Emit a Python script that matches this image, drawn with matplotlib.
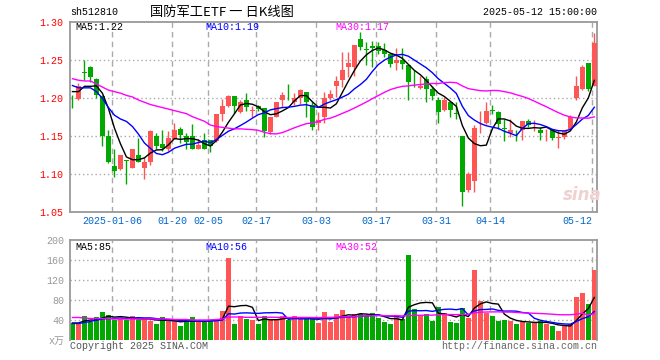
import matplotlib.pyplot as plt
import numpy as np
import pandas as pd

# trading days 2024-12-25 .. 2025-05-12 (SSE calendar)
holidays = ['2025-01-01', '2025-01-28', '2025-01-29', '2025-01-30', '2025-01-31',
            '2025-02-03', '2025-02-04', '2025-04-04', '2025-05-01', '2025-05-02', '2025-05-05']
dates = pd.bdate_range('2024-12-25', '2025-05-12').drop(pd.to_datetime(holidays))

label_dates = ['2025-01-06', '2025-01-20', '2025-02-05', '2025-02-17', '2025-03-03',
               '2025-03-17', '2025-03-31', '2025-04-14', '2025-05-12']

opens = [1.200, 1.198, 1.234, 1.241, 1.225, 1.202, 1.150, 1.110, 1.106, 1.118,
         1.108, 1.125, 1.107, 1.115, 1.150, 1.139, 1.132, 1.146, 1.159, 1.149,
         1.149, 1.133, 1.145, 1.145, 1.143, 1.179, 1.189, 1.202, 1.181, 1.197,
         1.183, 1.189, 1.186, 1.155, 1.175, 1.197, 1.208, 1.194, 1.199, 1.208,
         1.191, 1.167, 1.174, 1.199, 1.215, 1.223, 1.240, 1.241, 1.277, 1.264,
         1.268, 1.268, 1.263, 1.257, 1.246, 1.249, 1.243, 1.220, 1.213, 1.225,
         1.211, 1.197, 1.184, 1.194, 1.180, 1.150, 1.078, 1.090, 1.169, 1.167,
         1.184, 1.181, 1.160, 1.153, 1.150, 1.157, 1.170, 1.164, 1.157, 1.156,
         1.157, 1.147, 1.148, 1.159, 1.199, 1.211, 1.245, 1.216]
highs = [1.203, 1.219, 1.250, 1.242, 1.226, 1.203, 1.157, 1.132, 1.124, 1.118,
         1.132, 1.147, 1.122, 1.158, 1.154, 1.157, 1.156, 1.167, 1.162, 1.154,
         1.166, 1.146, 1.154, 1.145, 1.178, 1.198, 1.204, 1.202, 1.197, 1.206,
         1.189, 1.190, 1.187, 1.175, 1.194, 1.208, 1.218, 1.206, 1.212, 1.208,
         1.194, 1.181, 1.208, 1.210, 1.229, 1.260, 1.260, 1.270, 1.286, 1.273,
         1.275, 1.273, 1.272, 1.259, 1.265, 1.266, 1.245, 1.236, 1.228, 1.229,
         1.215, 1.201, 1.201, 1.194, 1.194, 1.150, 1.102, 1.164, 1.183, 1.194,
         1.190, 1.183, 1.172, 1.172, 1.157, 1.169, 1.172, 1.171, 1.161, 1.159,
         1.158, 1.157, 1.156, 1.177, 1.229, 1.243, 1.245, 1.285]
lows = [1.187, 1.197, 1.223, 1.221, 1.200, 1.136, 1.114, 1.096, 1.105, 1.086,
        1.107, 1.115, 1.093, 1.112, 1.132, 1.130, 1.130, 1.146, 1.140, 1.133,
        1.132, 1.132, 1.132, 1.129, 1.142, 1.170, 1.188, 1.180, 1.180, 1.183,
        1.174, 1.183, 1.148, 1.152, 1.175, 1.188, 1.197, 1.190, 1.192, 1.175,
        1.157, 1.158, 1.167, 1.197, 1.201, 1.214, 1.227, 1.228, 1.263, 1.243,
        1.240, 1.257, 1.254, 1.241, 1.237, 1.238, 1.197, 1.214, 1.212, 1.194,
        1.197, 1.167, 1.183, 1.175, 1.172, 1.058, 1.076, 1.076, 1.153, 1.166,
        1.179, 1.159, 1.143, 1.148, 1.143, 1.145, 1.161, 1.156, 1.144, 1.143,
        1.144, 1.134, 1.146, 1.157, 1.197, 1.210, 1.209, 1.215]
closes = [1.199, 1.215, 1.233, 1.227, 1.204, 1.150, 1.115, 1.104, 1.124, 1.117,
          1.132, 1.115, 1.116, 1.156, 1.137, 1.134, 1.147, 1.157, 1.151, 1.142,
          1.133, 1.138, 1.133, 1.136, 1.178, 1.189, 1.202, 1.189, 1.194, 1.188,
          1.184, 1.185, 1.156, 1.175, 1.194, 1.203, 1.207, 1.200, 1.210, 1.194,
          1.162, 1.171, 1.200, 1.205, 1.222, 1.237, 1.245, 1.270, 1.267, 1.263,
          1.266, 1.261, 1.258, 1.245, 1.250, 1.245, 1.221, 1.219, 1.216, 1.212,
          1.202, 1.181, 1.197, 1.184, 1.179, 1.076, 1.099, 1.160, 1.170, 1.183,
          1.183, 1.165, 1.159, 1.157, 1.149, 1.169, 1.164, 1.164, 1.154, 1.156,
          1.147, 1.147, 1.156, 1.175, 1.215, 1.240, 1.212, 1.272]
# volume, 万手
volume = [35, 33, 48, 37, 46, 56, 50, 40, 42, 40,
          48, 40, 42, 38, 32, 46, 38, 38, 28, 38,
          46, 37, 37, 38, 39, 59, 165, 32, 48, 42,
          40, 32, 48, 40, 43, 48, 40, 48, 42, 42,
          42, 34, 56, 37, 52, 60, 47, 52, 52, 48,
          54, 44, 36, 32, 47, 42, 170, 62, 50, 52,
          38, 66, 55, 36, 35, 64, 44, 140, 78, 55,
          48, 38, 40, 38, 32, 37, 34, 35, 38, 32,
          28, 18, 29, 33, 86, 94, 72, 140]

# moving-average values before enough history is available
ma5_head = [1.208, 1.208, 1.215, 1.215]
ma10_head = [1.216, 1.213, 1.213, 1.213, 1.208, 1.199, 1.187, 1.177, 1.172]
ma30_head = [1.225, 1.223, 1.222, 1.222, 1.218, 1.214, 1.210, 1.208, 1.206, 1.203,
             1.201, 1.197, 1.194, 1.191, 1.189, 1.187, 1.185, 1.183, 1.181, 1.179,
             1.175, 1.172, 1.169, 1.164, 1.162, 1.161, 1.160, 1.159, 1.159]
vma5_head = [34, 34, 38, 40]
vma10_head = [33, 33, 35, 37, 40, 42, 43, 43, 44]
vma30_head = [45, 45, 44, 43, 43, 43, 43, 42, 42, 42,
              42, 42, 42, 42, 42, 42, 42, 41, 41, 41,
              40, 40, 40, 40, 41, 42, 46, 46, 46]

RED = '#ff5555'
GREEN = '#00a800'
GRID = '#aaaaaa'
FRAME = '#999999'
MONO = 'Liberation Mono'


def moving(vals, n, head):
    s = pd.Series(vals, dtype=float).rolling(n).mean().to_numpy()
    s[:n - 1] = head
    return s


o = np.array(opens); h = np.array(highs); l = np.array(lows); c = np.array(closes)
x = np.arange(len(dates))
up = c >= o
cols = np.where(up, RED, GREEN)
pos = [dates.get_loc(pd.Timestamp(d)) for d in label_dates]
labels = [label_dates[0]] + [d[5:] for d in label_dates[1:]]

W, H = 660, 360
fig = plt.figure(figsize=(6.6, 3.6), dpi=100)
ax = fig.add_axes([70.3 / W, 1 - 211.7 / H, 526.4 / W, 190 / H])
axv = fig.add_axes([70.3 / W, 1 - 340 / H, 526.4 / W, 100 / H])

for a in (ax, axv):
    a.set_xlim(-0.36, 87.4)
    for s in a.spines.values():
        s.set_color(FRAME)
        s.set_linewidth(1.3)
    for p in pos:
        a.axvline(p - 0.33, color=GRID, lw=1, ls=(0, (4, 3)), zorder=0)
    a.tick_params(length=0)
axv.spines['bottom'].set_visible(False)

# price panel
for yv in [1.10, 1.15, 1.20, 1.25]:
    ax.axhline(yv, color=GRID, lw=1, ls=(0, (1, 2)), zorder=0)
ax.vlines(x, l, h, color=cols, lw=1, zorder=2)
ax.bar(x, np.maximum(np.abs(c - o), 0.0007), bottom=np.minimum(o, c), width=0.78,
       color=cols, lw=0, zorder=3)
ax.plot(x, moving(closes, 5, ma5_head), color='black', lw=1, zorder=4)
ax.plot(x, moving(closes, 10, ma10_head), color='#0000ff', lw=1, zorder=4)
ax.plot(x, moving(closes, 30, ma30_head), color='#ff00ff', lw=1, zorder=4)
ax.set_ylim(1.05, 1.30)
ax.set_yticks([1.05, 1.10, 1.15, 1.20, 1.25, 1.30])
ax.set_yticklabels(['%.2f' % v for v in [1.05, 1.10, 1.15, 1.20, 1.25, 1.30]],
                   color='red', family=MONO, fontsize=7.2)
ax.set_xticks([p - 0.33 for p in pos])
ax.set_xticklabels(labels, color='#0066cc', family=MONO, fontsize=7.2)
ax.get_xticklabels()[-1].set_horizontalalignment('right')
ax.tick_params(axis='x', pad=3)
ax.tick_params(axis='y', pad=5)
ax.text(563 / W, 1 - 195 / H, 'sina', transform=fig.transFigure, fontsize=12,
        style='italic', weight='bold', color='#f0d0d0', ha='left', va='center')

# volume panel
for yv in [40, 80, 120, 160]:
    axv.axhline(yv, color=GRID, lw=1, ls=(0, (1, 2)), zorder=0)
axv.bar(x, volume, width=0.78, color=cols, lw=0, zorder=2)
axv.plot(x, moving(volume, 5, vma5_head), color='black', lw=1, zorder=4)
axv.plot(x, moving(volume, 10, vma10_head), color='#0000ff', lw=1, zorder=4)
axv.plot(x, moving(volume, 30, vma30_head), color='#ff00ff', lw=1, zorder=4)
axv.set_ylim(0, 200)
axv.set_xticks([])
axv.set_yticks([0, 40, 80, 120, 160, 200])
axv.set_yticklabels(['x万', '40', '80', '120', '160', '200'], color='#999999',
                    family=[MONO, 'Noto Sans CJK SC'], fontsize=7.2)
axv.tick_params(axis='y', pad=4)

# header and captions
def ftext(px, py, s, **kw):
    fig.text(px / W, 1 - py / H, s, va='center', **kw)

ftext(70, 12, 'sh512810', family=MONO, fontsize=7.2, color='black')
ftext(150, 12, '国防军工ETF 一 日K线图', family=['Noto Sans CJK SC', 'DejaVu Sans'],
      fontsize=9.5, color='black')
ftext(597, 12, '2025-05-12 15:00:00', family=MONO, fontsize=7.2, color='black', ha='right')
for px, s, col in [(75, 'MA5:1.22', 'black'), (205, 'MA10:1.19', '#0000ff'),
                   (335, 'MA30:1.17', '#ff00ff')]:
    ftext(px, 27, s, family=MONO, fontsize=7.2, color=col)
for px, s, col in [(75, 'MA5:85', 'black'), (205, 'MA10:56', '#0000ff'),
                   (335, 'MA30:52', '#ff00ff')]:
    ftext(px, 247, s, family=MONO, fontsize=7.2, color=col)
ftext(70, 346, 'Copyright 2025 SINA.COM', family=MONO, fontsize=7.2, color='#555555')
ftext(597, 346, 'http://finance.sina.com.cn', family=MONO, fontsize=7.2, color='#666666',
      ha='right')

fig.savefig('out.png', dpi=100)
